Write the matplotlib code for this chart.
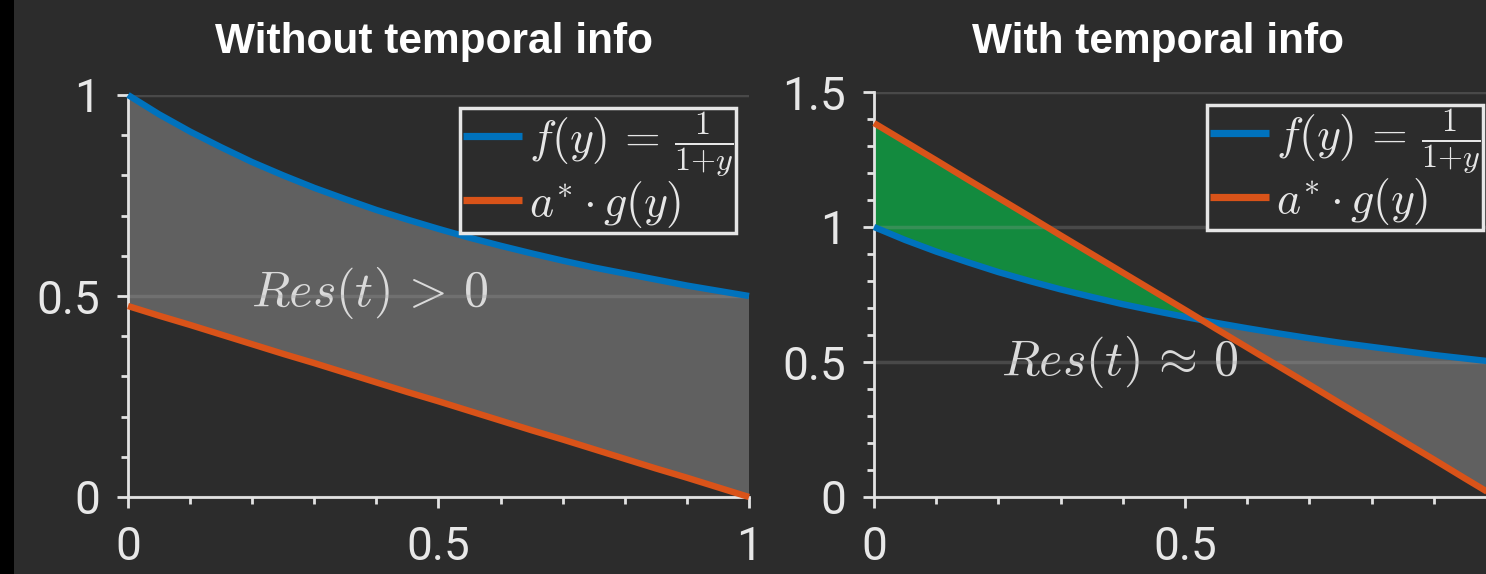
import matplotlib
matplotlib.use("Agg")
import matplotlib.pyplot as plt
from matplotlib.patches import Rectangle
from matplotlib.ticker import MultipleLocator, FixedLocator

plt.rcParams["mathtext.fontset"] = "cm"

# sample positions
y = [0.00, 0.05, 0.10, 0.15, 0.20, 0.25, 0.30, 0.35, 0.40, 0.45, 0.50,
     0.55, 0.60, 0.65, 0.70, 0.75, 0.80, 0.85, 0.90, 0.95, 1.00]

# f(y) = 1 / (1 + y)
f_vals = [1.000, 0.952, 0.909, 0.870, 0.833, 0.800, 0.769, 0.741, 0.714, 0.690, 0.667,
          0.645, 0.625, 0.606, 0.588, 0.571, 0.556, 0.541, 0.526, 0.513, 0.500]

# scaled approximation a* . g(y), without temporal information
g_left = [0.475, 0.451, 0.428, 0.404, 0.380, 0.356, 0.333, 0.309, 0.285, 0.261, 0.238,
          0.214, 0.190, 0.166, 0.143, 0.119, 0.095, 0.071, 0.048, 0.024, 0.000]

# scaled approximation a* . g(y), with temporal information
g_right = [1.385, 1.316, 1.247, 1.177, 1.108, 1.039, 0.969, 0.900, 0.831, 0.762, 0.693,
           0.623, 0.554, 0.485, 0.416, 0.346, 0.277, 0.208, 0.139, 0.069, 0.000]

titles = ["Without temporal info", "With temporal info"]
legend_labels = [r"$f(y)\,=\,\frac{1}{1{+}y}$", r"$a^{*}\cdot g(y)$"]
res_labels = [r"$Res(t)\,>\,0$", r"$Res(t)\,\approx\,0$"]

BG = "#2c2c2c"
BLUE = "#0072BD"
ORANGE = "#D95319"
GREEN = "#138A3E"
GRAY = "#606060"
AXC = "#e3e3e3"

W, H = 1486, 574
fig = plt.figure(figsize=(W / 100, H / 100), dpi=100, facecolor=BG)
fig.patches.append(Rectangle((0, 0), 14 / W, 1, transform=fig.transFigure,
                             facecolor="black", edgecolor="none", zorder=0))

tick_font = dict(family=["Roboto", "DejaVu Sans"], weight="normal", size=33)


def make_axes(rect, ymax, ymajor, xlabels, gvals, title, title_x, res_label, res_xy):
    ax = fig.add_axes(rect)
    ax.set_facecolor(BG)
    ax.set_xlim(0, 1)
    ax.set_ylim(0, ymax)

    ax.fill_between(y, f_vals, gvals, where=[a >= b for a, b in zip(f_vals, gvals)],
                    interpolate=True, facecolor=GRAY, edgecolor="none", zorder=1)
    ax.fill_between(y, f_vals, gvals, where=[a <= b for a, b in zip(f_vals, gvals)],
                    interpolate=True, facecolor=GREEN, edgecolor="none", zorder=1)

    ax.plot(y, f_vals, color=BLUE, lw=4.6, solid_capstyle="butt", zorder=4,
            clip_on=False, label=legend_labels[0])
    ax.plot(y, gvals, color=ORANGE, lw=4.6, solid_capstyle="butt", zorder=4,
            clip_on=False, label=legend_labels[1])

    for s in ("top", "right"):
        ax.spines[s].set_visible(False)
    for s in ("left", "bottom"):
        ax.spines[s].set_color(AXC)
        ax.spines[s].set_linewidth(2.0)
        ax.spines[s].set_zorder(3)

    ax.xaxis.set_major_locator(FixedLocator([0, 0.5, 1]))
    ax.xaxis.set_minor_locator(MultipleLocator(0.1))
    ax.yaxis.set_major_locator(FixedLocator(ymajor))
    ax.yaxis.set_minor_locator(MultipleLocator(0.1))
    ax.set_xticklabels(xlabels)
    ax.set_yticklabels(["0" if v == 0 else f"{v:g}" for v in ymajor])
    ax.tick_params(which="major", direction="out", length=8, width=2, color=AXC,
                   labelcolor="#e8e8e8")
    ax.tick_params(which="minor", direction="out", length=5, width=2, color=AXC)
    ax.tick_params(axis="x", which="major", pad=12)
    ax.tick_params(axis="y", which="major", pad=12)
    for lab in ax.get_xticklabels() + ax.get_yticklabels():
        lab.set_fontproperties(tick_font)

    # horizontal grid over the filled area
    ax.set_axisbelow(False)
    ax.yaxis.grid(True, which="major", color="#9e9e9e", alpha=0.26, lw=2.5)
    ax.xaxis.grid(False)

    ax.text(res_xy[0], res_xy[1], res_label, color="#dadada", fontsize=36,
            ha="center", va="center", zorder=2)

    leg = ax.legend(loc="upper right", fontsize=33, frameon=True, fancybox=False,
                    framealpha=1.0, facecolor=BG, edgecolor="#e6e6e6",
                    borderaxespad=0.28, borderpad=0.06, handlelength=1.3,
                    handletextpad=0.15, labelspacing=0.0)
    leg.get_frame().set_linewidth(2.5)
    for h in leg.get_lines():
        h.set_linewidth(5.2)
    for t in leg.get_texts():
        t.set_color("#e6e6e6")
    leg.set_zorder(6)

    fig.text(title_x / W, 1 - 53 / H, title, color="white", fontsize=30.5,
             fontweight="bold", family=["Liberation Sans", "DejaVu Sans"],
             ha="center", va="baseline")
    return ax


make_axes([128 / W, 77 / H, 621 / W, 402 / H], 1.0, [0, 0.5, 1], ["0", "0.5", "1"],
          g_left, titles[0], 434, res_labels[0], (0.39, 0.507))
make_axes([874 / W, 77 / H, 622 / W, 405 / H], 1.5, [0, 0.5, 1, 1.5], ["0", "0.5", ""],
          g_right, titles[1], 1158, res_labels[1], (0.395, 0.50))

fig.savefig("out.png", dpi=100, facecolor=BG)
